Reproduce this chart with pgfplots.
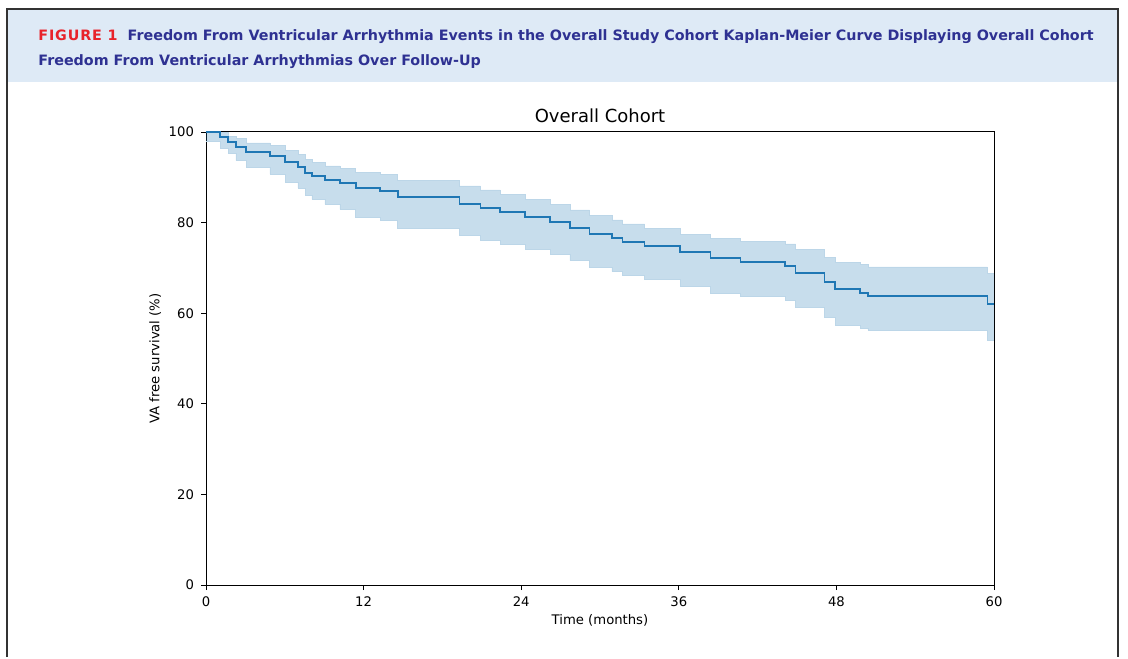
\documentclass[border=0pt]{standalone}
\usepackage{pgfplots}
\pgfplotsset{compat=1.18}
\usepgfplotslibrary{fillbetween}
\usepackage{fontspec}
\setmainfont{DejaVu Sans}
\newfontfamily\headfont{DejaVu Sans}
\definecolor{band}{HTML}{DEEAF6}
\definecolor{headblue}{HTML}{2E3192}
\definecolor{headred}{HTML}{E8232B}
\definecolor{kmblue}{HTML}{1F77B4}
\begin{document}
\begin{tikzpicture}[x=0.5pt,y=0.5pt]
\path (0,0) rectangle (1128,657);
\fill[band] (8,575) rectangle (1117,647);
\draw[black!80,line width=1pt] (7,0) -- (7,647.5) -- (1118,647.5) -- (1118,0);
\node[anchor=base west,inner sep=0pt,font=\headfont\bfseries\fontsize{7.15}{9}\selectfont] at (38,616) {\textcolor{headred}{\addfontfeature{LetterSpace=6}FIGURE 1}\hspace{5pt}\textcolor{headblue}{Freedom From Ventricular Arrhythmia Events in the Overall Study Cohort Kaplan-Meier Curve Displaying Overall Cohort}};
\node[anchor=base west,inner sep=0pt,font=\headfont\bfseries\fontsize{7.15}{9}\selectfont,text=headblue] at (38,591) {Freedom From Ventricular Arrhythmias Over Follow-Up};
\begin{axis}[at={(103pt,36pt)},anchor=south west,scale only axis,
  width=394pt,height=226.5pt,
  xmin=0,xmax=60,ymin=0,ymax=100,
  xtick={0,12,24,36,48,60},ytick={0,20,40,60,80,100},
  xtick pos=bottom, ytick pos=left,
  tick align=outside, tick style={black,line width=0.4pt},
  major tick length=2.5pt,
  /pgf/number format/assume math mode=true,
  ticklabel style={font=\fontsize{6.6}{8}\selectfont},
  label style={font=\fontsize{6.6}{8}\selectfont},
  xlabel={Time (months)}, ylabel={VA free survival (\%)},
  xlabel style={yshift=3pt}, ylabel style={yshift=-3pt},
  title={Overall Cohort}, title style={font=\fontsize{9}{10}\selectfont,yshift=-5pt},
  axis line style={line width=0.5pt},
]
\pgfplotstableread{
t s up lo
0 100 100 98
1.07 98.9 99.9 96.4
1.68 97.8 99.0 95.2
2.28 96.7 98.5 93.7
3.05 95.6 97.6 92.2
4.87 94.7 97.0 90.7
6.02 93.4 95.9 89.0
7.0 92.3 95.0 87.6
7.54 91.0 93.9 86.0
8.07 90.3 93.3 85.1
9.06 89.4 92.5 84.0
10.2 88.7 91.9 82.9
11.4 87.6 91.1 81.2
13.25 87.0 90.6 80.4
14.6 85.6 89.4 78.8
19.3 84.1 88.1 77.2
20.9 83.2 87.2 76.2
22.4 82.3 86.3 75.3
24.3 81.2 85.2 74.2
26.2 80.1 84.1 73.0
27.7 78.8 82.8 71.6
29.2 77.5 81.5 70.2
30.9 76.6 80.6 69.2
31.7 75.7 79.7 68.3
33.4 74.8 78.8 67.4
36.1 73.5 77.4 65.9
38.4 72.2 76.5 64.5
40.7 71.3 75.9 63.7
44.1 70.4 75.3 62.8
44.9 68.9 74.1 61.3
47.1 66.9 72.3 59.1
47.9 65.3 71.2 57.3
49.8 64.5 70.7 56.6
50.4 63.8 70.2 56.3
59.5 62.0 68.7 54.0
60 62.0 68.7 54.0
}\km
\addplot[const plot, draw=kmblue!30, line width=0.3pt, name path=U] table[x=t,y=up]{\km};
\addplot[const plot, draw=kmblue!30, line width=0.3pt, name path=L] table[x=t,y=lo]{\km};
\addplot[fill=kmblue, fill opacity=0.25, draw=none] fill between[of=U and L];
\addplot[const plot, draw=kmblue, line width=0.8pt] table[x=t,y=s]{\km};
\end{axis}
\end{tikzpicture}
\end{document}
